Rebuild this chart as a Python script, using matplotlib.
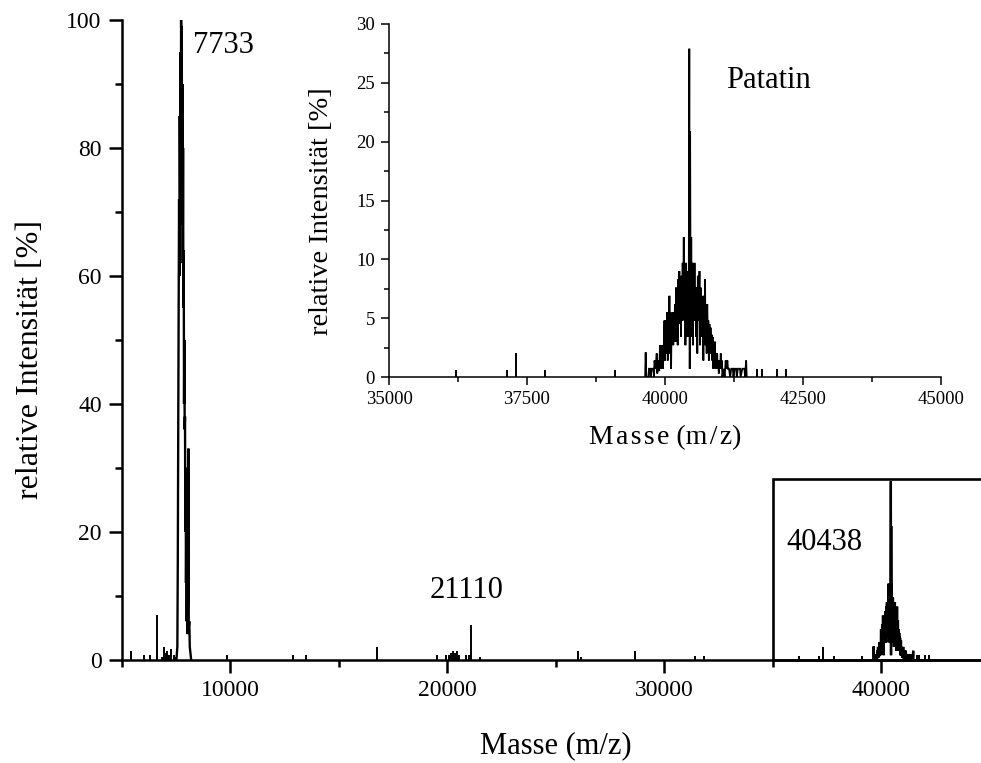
import matplotlib
matplotlib.use("Agg")
import matplotlib.pyplot as plt
from matplotlib.patches import Rectangle
from matplotlib.ticker import MultipleLocator

plt.rcParams['font.family'] = ['Liberation Serif', 'DejaVu Serif']

# --- main peak profile around m/z 7733 ---
peak_mass = [7517, 7560, 7580, 7600, 7620, 7640, 7655, 7670, 7690, 7705,
             7720, 7733, 7748, 7763, 7778, 7793, 7808, 7823, 7838, 7853,
             7868, 7883, 7898, 7913, 7928, 7943, 7958, 7973, 7990, 8005,
             8030, 8050, 8072, 8085, 8110, 8133, 8195]
peak_int = [0, 2, 15, 35, 55, 72, 60, 85, 70, 95,
            80, 100, 90, 99, 68, 90, 62, 80, 55, 64,
            40, 50, 36, 38, 20, 30, 12, 22, 6, 15,
            4, 10, 33, 5, 6, 2, 0]

# --- Patatin cluster around m/z 40438 ---
patatin_mass = [39640, 39650, 39660, 39700, 39710, 39730, 39740, 39760, 39790, 39800,
                39810, 39830, 39850, 39860, 39880, 39895, 39910, 39920, 39935, 39950,
                39960, 39975, 39990, 40000, 40010, 40020, 40030, 40040, 40050, 40060,
                40070, 40080, 40090, 40100, 40110, 40120, 40130, 40140, 40150, 40160,
                40170, 40180, 40190, 40200, 40210, 40220, 40230, 40240, 40250, 40260,
                40270, 40280, 40290, 40300, 40310, 40320, 40330, 40340, 40350, 40360,
                40370, 40380, 40390, 40400, 40410, 40420, 40430, 40440, 40448, 40455,
                40465, 40475, 40485, 40495, 40505, 40515, 40525, 40535, 40545, 40555,
                40565, 40575, 40585, 40595, 40605, 40615, 40625, 40635, 40645, 40655,
                40665, 40675, 40685, 40695, 40705, 40715, 40725, 40735, 40745, 40755,
                40765, 40775, 40785, 40795, 40805, 40815, 40825, 40835, 40845, 40855,
                40865, 40875, 40885, 40895, 40905, 40915, 40925, 40935, 40945, 40955,
                40965, 40975, 40990, 41000, 41010, 41020, 41030, 41040, 41060, 41080,
                41100, 41110, 41130, 41140, 41160, 41180, 41200, 41230, 41240, 41260,
                41290, 41300, 41320, 41360, 41370, 41400, 41440, 41450, 41470, 41480]
patatin_int = [0, 2.1, 0, 0, 0.7, 0.7, 0, 0.7, 0.7, 0,
               1.4, 0.7, 2.0, 0.3, 1.4, 0.5, 2.7, 0.7, 1.4, 2.7,
               0.7, 2.0, 4.8, 1.4, 4.8, 2.0, 3.5, 5.5, 1.4, 4.2,
               2.7, 6.9, 2.0, 5.5, 0.7, 4.8, 3.4, 5.5, 2.7, 4.8,
               3.4, 6.2, 3.0, 7.6, 4.0, 6.9, 2.7, 8.3, 4.5, 9.0,
               5.5, 7.6, 3.4, 8.6, 4.8, 9.7, 6.2, 11.9, 4.8, 9.0,
               2.7, 9.7, 5.5, 9.0, 3.4, 8.3, 6.0, 27.9, 0.7, 20.9,
               3.4, 11.9, 5.5, 9.7, 2.7, 8.3, 4.8, 9.7, 5.5, 6.9,
               3.4, 7.6, 2.0, 8.6, 4.8, 6.2, 9.0, 2.7, 7.6, 4.2,
               6.9, 3.4, 6.2, 1.4, 6.9, 3.4, 8.3, 2.7, 5.5, 2.0,
               6.2, 3.4, 4.8, 1.4, 4.5, 2.0, 4.2, 2.7, 3.6, 1.4,
               3.4, 0.7, 2.7, 1.4, 3.0, 0.7, 2.0, 0.7, 2.0, 0.7,
               1.4, 0.3, 1.4, 0.7, 2.0, 0.7, 1.4, 0, 0.7, 0,
               1.4, 0.7, 1.4, 0.7, 0.7, 0, 0.7, 0.7, 0, 0.7,
               0.7, 0, 0.7, 0.7, 0, 0.7, 0.7, 0, 1.4, 0]

# --- isolated signals across the spectrum ---
stick_mass = [5424, 6008, 6300, 6607, 6866, 6945, 7022, 7098, 7190, 7282,
              7405, 7465, 9833, 12880, 13490, 16750, 19530, 19960, 20060, 20156,
              20257, 20355, 20452, 20535, 20860, 20980, 21110, 21490, 26030, 26160,
              28650, 31400, 31830, 36210, 37130, 37300, 37830, 39100, 41660, 41750,
              42030, 42190]
stick_int = [1.4, 0.7, 0.7, 7.0, 0.5, 2.0, 1.0, 1.4, 0.7, 1.6,
             0.8, 0.5, 0.7, 0.7, 0.7, 2.0, 0.7, 0.7, 0.7, 1.0,
             1.4, 1.0, 1.4, 0.7, 0.7, 0.7, 5.4, 0.5, 1.4, 0.5,
             1.3, 0.6, 0.6, 0.6, 0.6, 2.0, 0.6, 0.6, 0.7, 0.7,
             0.7, 0.7]

# --- annotations ---
label_texts = ['7733', '21110', '40438']
label_pos = [(8281, 94.8), (19200, 9.6), (35610, 17.2)]

W, H = 981, 763
fig = plt.figure(figsize=(W / 100, H / 100), dpi=100)

# main spectrum
x0, x1, y0, y1 = 121.8, 989.8, 659.7, 20.0
ax = fig.add_axes([x0 / W, 1 - y0 / H, (x1 - x0) / W, (y0 - y1) / H])


def draw_spectrum(a, lw_line, lw_stick):
    a.plot(peak_mass, peak_int, color='black', lw=lw_line, solid_joinstyle='miter')
    a.plot(patatin_mass, patatin_int, color='black', lw=lw_line, solid_joinstyle='miter')
    a.vlines(stick_mass, 0, stick_int, color='black', lw=lw_stick)


draw_spectrum(ax, 1.7, 1.4)
ax.set_xlim(5000, 45000)
ax.set_ylim(0, 100)
for s in ('top', 'right'):
    ax.spines[s].set_visible(False)
for s in ('left', 'bottom'):
    ax.spines[s].set_linewidth(1.8)
ax.xaxis.set_major_locator(MultipleLocator(10000))
ax.xaxis.set_minor_locator(MultipleLocator(5000))
ax.yaxis.set_major_locator(MultipleLocator(20))
ax.yaxis.set_minor_locator(MultipleLocator(10))
ax.tick_params(which='major', direction='out', length=9.5, width=1.8, labelsize=17, pad=5)
ax.tick_params(which='minor', direction='out', length=5, width=1.8)
ax.set_xlabel('Masse (m/z)', fontsize=22)
ax.set_ylabel('relative Intensität [%]', fontsize=23)
ax.xaxis.set_label_coords(0.5, -0.112)
ax.yaxis.set_label_coords(-0.089, 0.47)

for txt, (mx, my) in zip(label_texts, label_pos):
    ax.text(mx, my, txt, fontsize=22, va='baseline', ha='left')

ax.add_patch(Rectangle((35000, 0), 10000, 28.2, fill=False, lw=1.9,
                       edgecolor='black', clip_on=False, zorder=3))

# zoomed inset on the Patatin region
ix0, ix1, iy0, iy1 = 389, 941, 377, 24
ax2 = fig.add_axes([ix0 / W, 1 - iy0 / H, (ix1 - ix0) / W, (iy0 - iy1) / H])
ax2.patch.set_alpha(0)
draw_spectrum(ax2, 1.3, 1.4)
ax2.set_xlim(35000, 45000)
ax2.set_ylim(0, 30)
for s in ('top', 'right'):
    ax2.spines[s].set_visible(False)
for s in ('left', 'bottom'):
    ax2.spines[s].set_linewidth(1.1)
ax2.xaxis.set_major_locator(MultipleLocator(2500))
ax2.xaxis.set_minor_locator(MultipleLocator(1250))
ax2.yaxis.set_major_locator(MultipleLocator(5))
ax2.yaxis.set_minor_locator(MultipleLocator(2.5))
ax2.tick_params(which='major', direction='out', length=6, width=1.1, labelsize=13.5, pad=4)
ax2.tick_params(which='minor', direction='out', length=3.5, width=1.1)
hs = '\u200a'
ax2.set_xlabel(hs.join('Masse') + ' (m' + hs + '/' + hs + 'z)', fontsize=20)
ax2.set_ylabel('relative Intensität [%]', fontsize=20.5)
ax2.xaxis.set_label_coords(0.5, -0.136)
ax2.yaxis.set_label_coords(-0.1, 0.47)
ax2.text(41100, 24.6, 'Patatin', fontsize=22, va='baseline', ha='left')

fig.savefig('out.png', dpi=100)
